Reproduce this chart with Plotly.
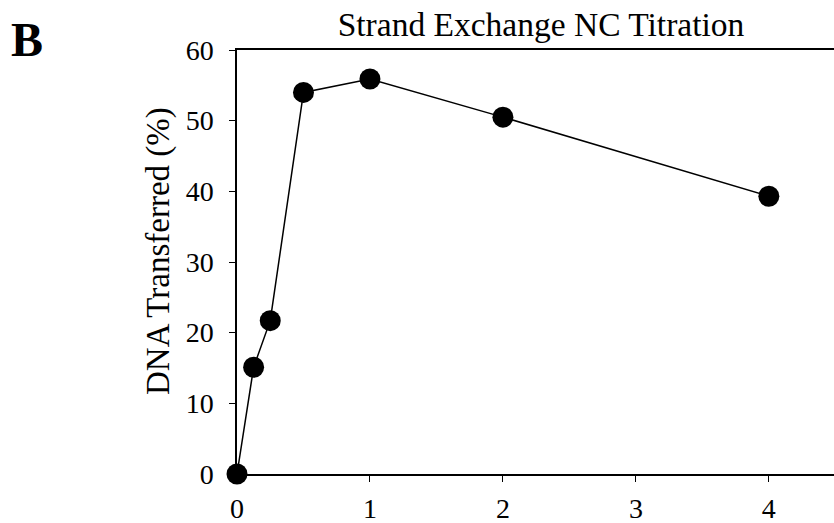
import plotly.graph_objects as go

nc_ratio = [0, 0.125, 0.25, 0.5, 1, 2, 4]
dna_transferred = [0, 15.1, 21.7, 54.0, 55.9, 50.5, 39.3]
x_ticks = [0, 1, 2, 3, 4]
y_ticks = [0, 10, 20, 30, 40, 50, 60]

font_family = "Liberation Serif, Times New Roman, serif"

W, H = 834, 523
L, R, T, B = 237, 0, 50, 49
pw, ph = W - L - R, H - T - B

fig = go.Figure()
fig.add_trace(go.Scatter(
    x=nc_ratio, y=dna_transferred, mode="lines+markers",
    line=dict(color="black", width=1.5),
    marker=dict(color="black", size=21),
    cliponaxis=False, showlegend=False,
))

fig.update_layout(
    width=W, height=H,
    margin=dict(l=L, r=R, t=T, b=B, autoexpand=False),
    paper_bgcolor="white", plot_bgcolor="white",
    font=dict(family=font_family, size=28, color="black"),
    title=dict(text="Strand Exchange NC Titration", x=541 / W, xanchor="center",
               xref="container", yref="container",
               y=1 - 24 / H, yanchor="middle", font=dict(size=33.5, family=font_family)),
    xaxis=dict(range=[0, 4.49], tickvals=x_ticks, showgrid=False, zeroline=False,
               showline=True, linecolor="black", linewidth=1.5, mirror=True,
               ticks="outside", ticklen=6, tickcolor="black", ticklabelstandoff=3,
               tickfont=dict(size=28), automargin=False),
    yaxis=dict(range=[0, 60], tickvals=y_ticks, showgrid=False, zeroline=False,
               showline=True, linecolor="black", linewidth=1.5, mirror=False,
               ticks="outside", ticklen=6, tickcolor="black", ticklabelstandoff=10,
               tickfont=dict(size=28), automargin=False),
    annotations=[
        dict(text="<b>B</b>", xref="paper", yref="paper",
             x=(27 - L) / pw, y=(H - B - 40) / ph,
             xanchor="center", yanchor="middle", showarrow=False,
             font=dict(size=48, family=font_family)),
        dict(text="DNA Transferred (%)", xref="paper", yref="paper",
             x=(158 - L) / pw, y=(H - B - 251) / ph, textangle=-90,
             xanchor="center", yanchor="middle", showarrow=False,
             font=dict(size=33, family=font_family)),
    ],
)

fig.write_html("out.html", config={"displayModeBar": False},
               post_script="document.body.style.margin='0';")
